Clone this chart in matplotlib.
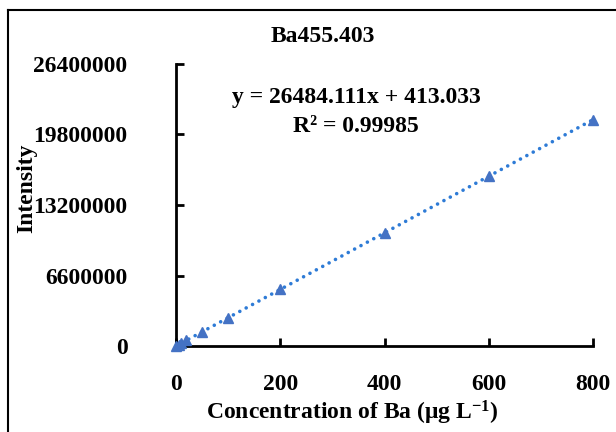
import numpy as np
import matplotlib
matplotlib.use("Agg")
import matplotlib.pyplot as plt
from matplotlib.lines import Line2D

# ---------------------------------------------------------------------------
# Data (calibration standards, Ba 455.403 nm)
# ---------------------------------------------------------------------------
conc_ug_per_l = [0, 5, 10, 20, 50, 100, 200, 400, 600, 800]
intensity     = [1200, 132000, 265000, 530000, 1325000, 2650000,
                 5300000, 10590000, 15890000, 21190000]
fit_slope     = 26484.111
fit_intercept = 413.033
r_squared     = 0.99985
y_ticks       = [0, 6600000, 13200000, 19800000, 26400000]
x_ticks       = [0, 200, 400, 600, 800]

BLUE = "#4472C4"
LINE_BLUE = "#2E7BD6"

plt.rcParams["font.family"] = ["Liberation Serif", "DejaVu Serif"]
plt.rcParams["font.weight"] = "bold"
plt.rcParams["mathtext.fontset"] = "custom"
plt.rcParams["mathtext.rm"] = "Liberation Serif:bold"
plt.rcParams["mathtext.default"] = "rm"

fig = plt.figure(figsize=(6.16, 4.32), dpi=100)
ax = fig.add_axes([0.2857, 0.199, 0.677, 0.653])

# trendline (round dots)
xs = np.array([0, 800])
ax.plot(xs, fit_slope * xs + fit_intercept, color=LINE_BLUE, linestyle=(0, (0.01, 2.0)),
        linewidth=2.6, dash_capstyle="round", solid_capstyle="round", zorder=2)
ax.plot(conc_ug_per_l, intensity, linestyle="none", marker="^", markersize=7.5,
        color=BLUE, zorder=3, clip_on=False)

ax.set_xlim(0, 800)
ax.set_ylim(0, 26400000)
ax.set_xticks(x_ticks)
ax.set_yticks(y_ticks)
ax.set_xticklabels([str(v) for v in x_ticks], fontsize=17, fontweight="bold")
ax.set_yticklabels([str(v) for v in y_ticks], fontsize=17, fontweight="bold")
ax.tick_params(axis="both", direction="in", length=6, width=2)
ax.tick_params(axis="y", pad=35)
ax.tick_params(axis="x", pad=20)

for side in ("top", "right"):
    ax.spines[side].set_visible(False)
for side in ("left", "bottom"):
    ax.spines[side].set_linewidth(2)

# texts
fig.text(323 / 616, 1 - 37 / 432, "Ba455.403", ha="center", va="center",
         fontsize=17, fontweight="bold")
fig.text(356 / 616, 1 - 97 / 432, f"y = {fit_slope:.3f}x + {fit_intercept:.3f}",
         ha="center", va="center", fontsize=17, fontweight="bold")
fig.text(356 / 616, 1 - 127 / 432, f"R² = {r_squared}", ha="center", va="center",
         fontsize=17, fontweight="bold")
fig.text(352 / 616, 1 - 413 / 432, "Concentration of Ba (μg L$^{-1}$)",
         ha="center", va="center", fontsize=17, fontweight="bold")
fig.text(27 / 616, 1 - 188 / 432, "Intensity", ha="center", va="center",
         rotation=90, fontsize=17, fontweight="bold")

# outer frame (left and top edges only visible)
fig.add_artist(Line2D([8 / 616, 8 / 616], [0, 1 - 10 / 432], color="black",
                      linewidth=1.5, transform=fig.transFigure))
fig.add_artist(Line2D([8 / 616, 1], [1 - 10 / 432, 1 - 10 / 432], color="black",
                      linewidth=1.5, transform=fig.transFigure))

plt.savefig("out.png", dpi=100)
